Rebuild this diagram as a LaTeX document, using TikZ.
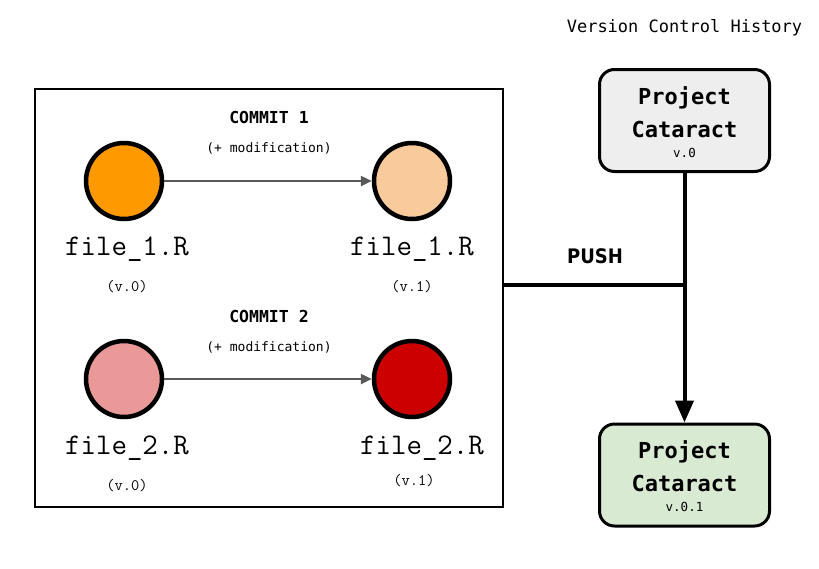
\documentclass[tikz,border=0pt]{standalone}
\usepackage{fontspec}
\setmainfont{DejaVu Sans Mono}
\setmonofont{Latin Modern Mono}
\newfontfamily\pushfont{DejaVu Sans Condensed}
\usetikzlibrary{arrows.meta}
\definecolor{orangeA}{HTML}{FF9900}
\definecolor{orangeB}{HTML}{F9CB9C}
\definecolor{redA}{HTML}{EA9999}
\definecolor{redB}{HTML}{CC0000}
\definecolor{arrowgray}{HTML}{595959}
\definecolor{boxgray}{HTML}{EEEEEE}
\definecolor{boxgreen}{HTML}{D9EAD3}
\tikzset{
  filecirc/.style={circle, draw=black, line width=4.5pt, minimum size=76pt, inner sep=0pt},
  fname/.style={font=\ttfamily\fontsize{30}{32}\selectfont, inner sep=0pt},
  fver/.style={font=\ttfamily\fontsize{16}{18}\selectfont, inner sep=0pt},
  commit/.style={font=\bfseries\fontsize{16.5}{18}\selectfont, inner sep=0pt},
  modif/.style={font=\fontsize{13}{15}\selectfont, inner sep=0pt},
  proj/.style={draw=black, line width=3pt, rounded corners=15pt, minimum width=170pt, minimum height=102pt, inner sep=0pt},
  projtxt/.style={font=\bfseries\fontsize{22}{24}\selectfont, inner sep=0pt},
  vertxt/.style={font=\fontsize{12.5}{14}\selectfont, inner sep=0pt},
  modarrow/.style={draw=arrowgray, line width=2.4pt, -{Triangle[length=11pt,width=10pt]}}
}
\begin{document}
\begin{tikzpicture}[x=1pt,y=-1pt]
\useasboundingbox (0,0) rectangle (819,568);
% big container
\node[draw=black, line width=2pt, minimum width=468pt, minimum height=418pt, inner sep=0pt] (frame) at (269,298) {};
% circles
\node[filecirc, fill=orangeA] (f1a) at (124,181) {};
\node[filecirc, fill=orangeB] (f1b) at (412,181) {};
\node[filecirc, fill=redA] (f2a) at (124,379) {};
\node[filecirc, fill=redB] (f2b) at (412,379) {};
\draw[modarrow] (f1a) -- (f1b);
\draw[modarrow] (f2a) -- (f2b);
% labels
\node[commit] (c1) at (269,117) {COMMIT 1};
\node[modif] (m1) at (269,148) {(+ modification)};
\node[commit] (c2) at (269,316) {COMMIT 2};
\node[modif] (m2) at (269,347) {(+ modification)};
\node[fname] (n1a) at (127,249) {file\_1.R};
\node[fver] (v1a) at (127,287) {(v.0)};
\node[fname] (n1b) at (412,249) {file\_1.R};
\node[fver] (v1b) at (412,287) {(v.1)};
\node[fname] (n2a) at (127,448) {file\_2.R};
\node[fver] (v2a) at (127,486) {(v.0)};
\node[fname] (n2b) at (422,448) {file\_2.R};
\node[fver] (v2b) at (414,481) {(v.1)};
% project boxes
\node[proj, fill=boxgray] (p0) at (684.5,120.5) {};
\node[projtxt] at (684.5,98) {Project};
\node[projtxt] at (684.5,129) {Cataract};
\node[vertxt] at (684.5,153) {v.0};
\node[proj, fill=boxgreen] (p1) at (684.5,475) {};
\node[projtxt] at (684.5,452) {Project};
\node[projtxt] at (684.5,483) {Cataract};
\node[vertxt] at (684.5,507) {v.0.1};
% push
\coordinate (j) at (684.5,285);
\draw[line width=3.5pt] (frame.east |- j) -- (j);
\draw[line width=4pt, -{Triangle[length=22pt,width=18pt]}] (p0.south) -- (p1.north);
\node[font=\pushfont\bfseries\fontsize{20}{22}\selectfont, inner sep=0pt] (push) at (595,256) {PUSH};
\node[font=\fontsize{17}{19}\selectfont, inner sep=0pt] (title) at (684.5,28) {Version Control History};
\end{tikzpicture}
\end{document}
